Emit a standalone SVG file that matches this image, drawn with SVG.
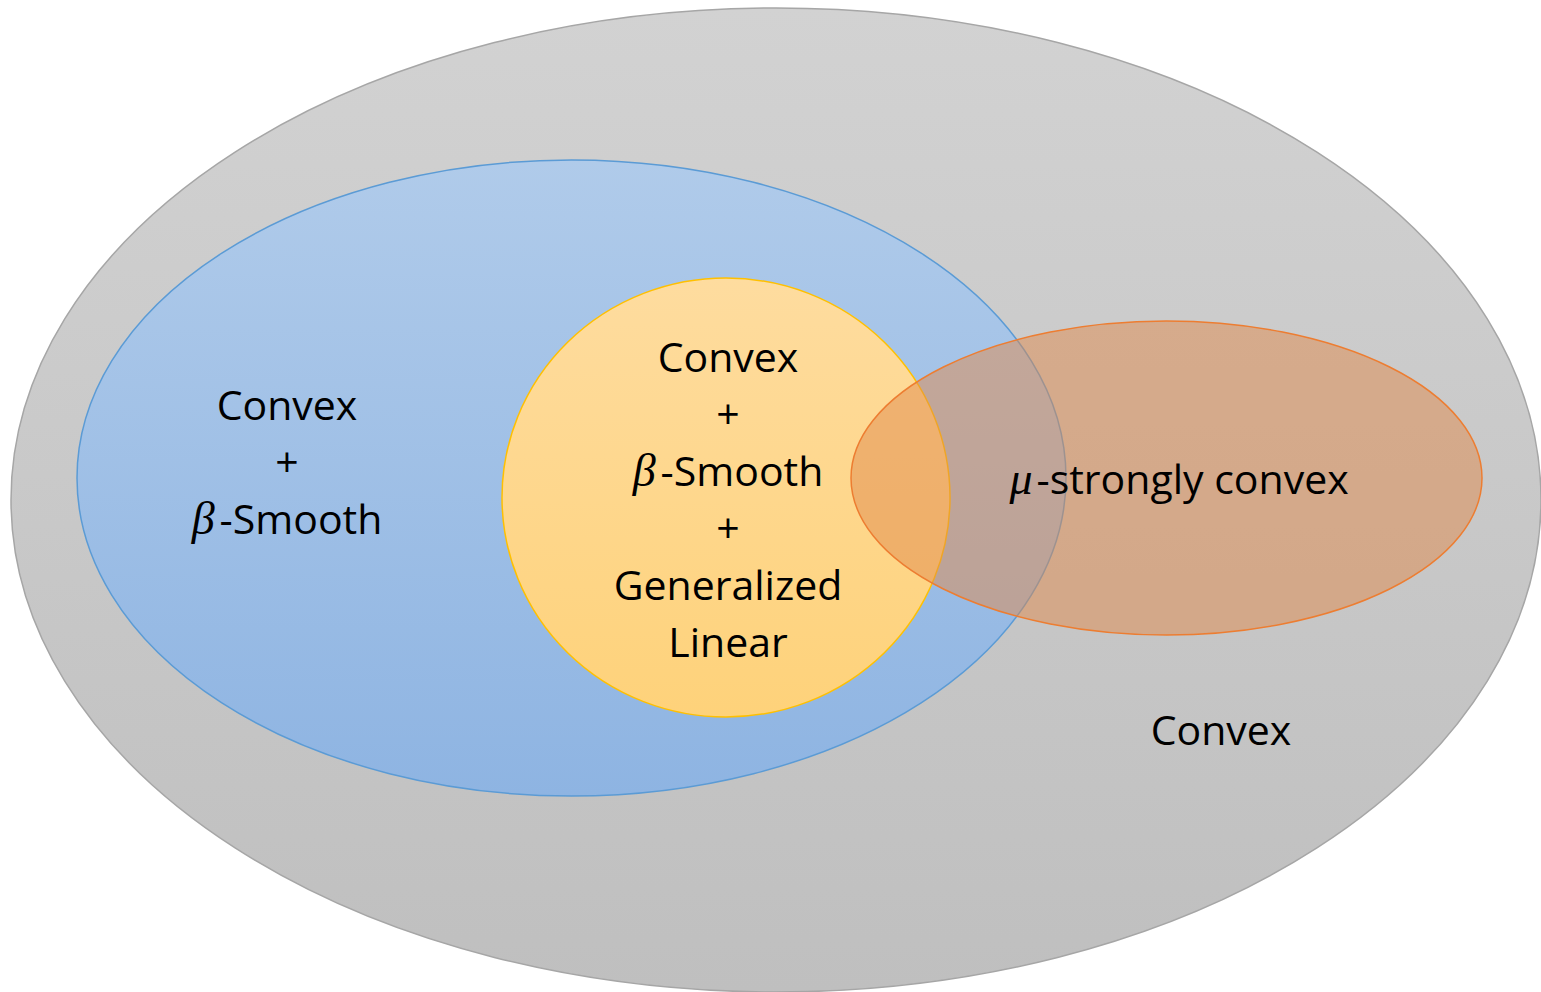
<svg xmlns="http://www.w3.org/2000/svg" width="1541" height="992" viewBox="0 0 1541 992">
<defs>
<linearGradient id="gGray" x1="0" y1="0" x2="0" y2="1"><stop offset="0" stop-color="#d2d2d2"/><stop offset="1" stop-color="#bfbfbf"/></linearGradient>
<linearGradient id="gBlue" x1="0" y1="0" x2="0" y2="1"><stop offset="0" stop-color="#b0cbea"/><stop offset="1" stop-color="#8eb4e2"/></linearGradient>
<linearGradient id="gYellow" x1="0" y1="0" x2="0" y2="1"><stop offset="0" stop-color="#fedc9f"/><stop offset="1" stop-color="#fed27a"/></linearGradient>
<style>
text{font-family:"Open Sans","Noto Sans","DejaVu Sans",sans-serif;font-size:41px;fill:#000;text-anchor:middle}
.m{font-family:"Liberation Serif","DejaVu Serif",serif;font-style:italic;font-size:46px}
</style>
</defs>
<g id="convex">
<ellipse cx="776" cy="500" rx="765" ry="492" fill="url(#gGray)" stroke="#a6a6a6" stroke-width="1.5"/>
<text x="1221" y="745">Convex</text>
</g>
<g id="smooth">
<ellipse cx="571.5" cy="478" rx="494.5" ry="318" fill="url(#gBlue)" stroke="#5b9bd5" stroke-width="1.5"/>
<text x="287" y="420">Convex</text>
<text x="287" y="477">+</text>
<text x="287" y="534"><tspan class="m">β</tspan><tspan dx="5">-Smooth</tspan></text>
</g>
<g id="glm">
<ellipse cx="726" cy="497.5" rx="224" ry="219.5" fill="url(#gYellow)" stroke="#ffc000" stroke-width="1.5"/>
<text x="728" y="372">Convex</text>
<text x="728" y="429">+</text>
<text x="728" y="486"><tspan class="m">β</tspan><tspan dx="5">-Smooth</tspan></text>
<text x="728" y="543">+</text>
<text x="728" y="600">Generalized</text>
<text x="728" y="657">Linear</text>
</g>
<g id="strong">
<ellipse cx="1166.5" cy="478" rx="315.5" ry="157" fill="#e08a4c" fill-opacity="0.5" stroke="#ed7d31" stroke-width="1.5"/>
<text x="1179" y="494"><tspan class="m">μ</tspan><tspan dx="4">-strongly convex</tspan></text>
</g>
<g id="connectors"/>
</svg>
